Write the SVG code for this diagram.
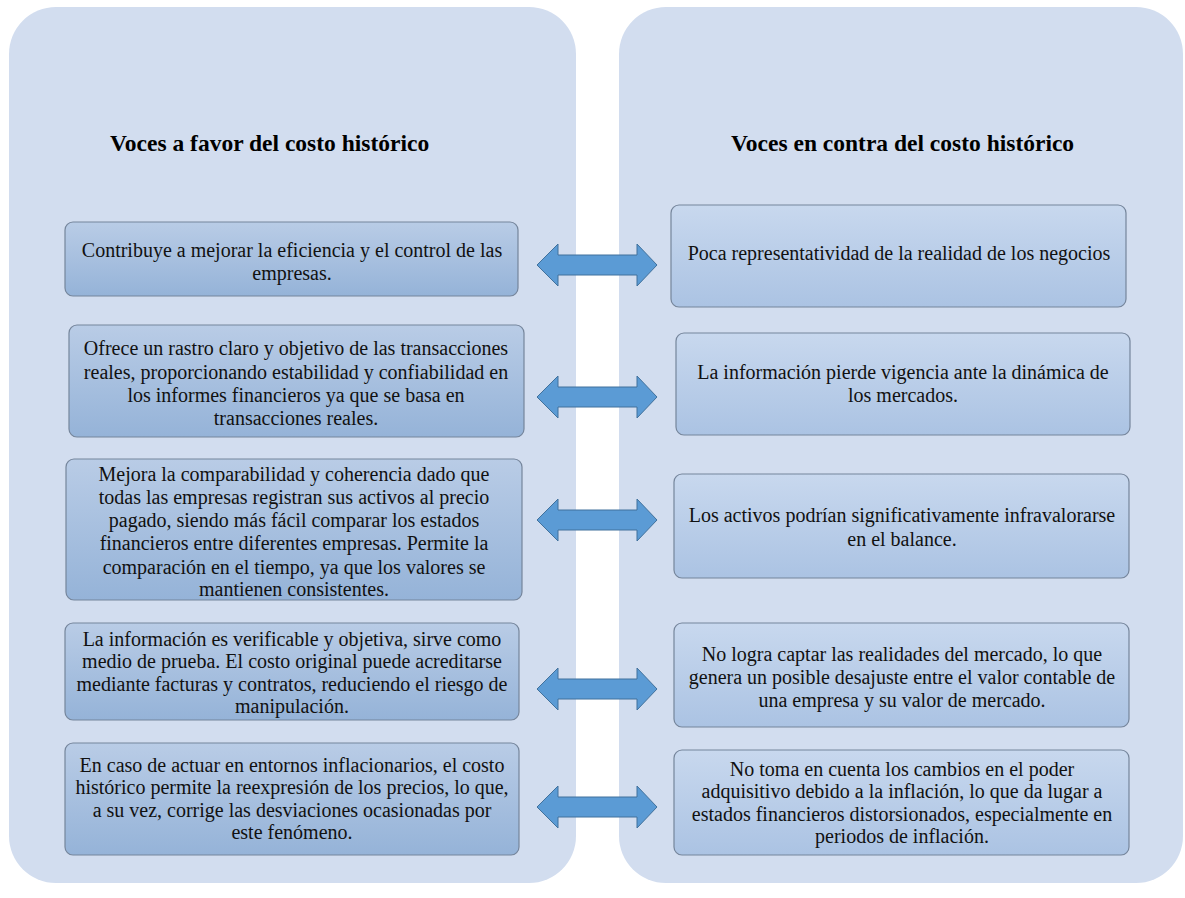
<svg xmlns="http://www.w3.org/2000/svg" width="1185" height="898" viewBox="0 0 1185 898">
<style>
.panel{fill:#D2DDEF;}
.lbox{fill:url(#gl);stroke:#75859b;stroke-width:1.2;}
.rbox{fill:url(#gr);stroke:#75859b;stroke-width:1.2;}
.t{font-family:"Liberation Serif","Times New Roman",serif;font-size:20px;fill:#111;text-anchor:middle;}
.h{font-family:"Liberation Serif","Times New Roman",serif;font-size:23.5px;font-weight:bold;fill:#000;}
.arr{fill:#5B9BD5;stroke:#41719C;stroke-width:1;}
</style>
<defs>
<linearGradient id="gl" x1="0" y1="0" x2="0" y2="1">
<stop offset="0" stop-color="#B9CCE6"/>
<stop offset="1" stop-color="#95B3D8"/>
</linearGradient>
<linearGradient id="gr" x1="0" y1="0" x2="0" y2="1">
<stop offset="0" stop-color="#C8D8EE"/>
<stop offset="1" stop-color="#ABC3E3"/>
</linearGradient>
<path id="dbl" d="M537,0 L558,-21 L558,-10 L637,-10 L637,-21 L657,0 L637,21 L637,10 L558,10 L558,21 Z"/>
</defs>

<g id="panel-favor">
<rect class="panel" x="9" y="7" width="567" height="876" rx="47"/>
<text class="h" x="110" y="151">Voces a favor del costo histórico</text>
</g>
<g id="panel-contra">
<rect class="panel" x="619" y="7" width="564" height="876" rx="47"/>
<text class="h" x="731" y="151">Voces en contra del costo histórico</text>
</g>

<g id="favor-1">
<rect class="lbox" x="65" y="222" width="453" height="74" rx="8"/>
<text class="t" x="292" y="257">Contribuye a mejorar la eficiencia y el control de las</text>
<text class="t" x="292" y="280">empresas.</text>
</g>
<g id="favor-2">
<rect class="lbox" x="69" y="325" width="455" height="112" rx="8"/>
<text class="t" x="296" y="355">Ofrece un rastro claro y objetivo de las transacciones</text>
<text class="t" x="296" y="379">reales, proporcionando estabilidad y confiabilidad en</text>
<text class="t" x="296" y="402">los informes financieros ya que se basa en</text>
<text class="t" x="296" y="425">transacciones reales.</text>
</g>
<g id="favor-3">
<rect class="lbox" x="66" y="459" width="456" height="141" rx="8"/>
<text class="t" x="294" y="481">Mejora la comparabilidad y coherencia dado que</text>
<text class="t" x="294" y="504">todas las empresas registran sus activos al precio</text>
<text class="t" x="294" y="527">pagado, siendo más fácil comparar los estados</text>
<text class="t" x="294" y="550">financieros entre diferentes empresas. Permite la</text>
<text class="t" x="294" y="574">comparación en el tiempo, ya que los valores se</text>
<text class="t" x="294" y="596">mantienen consistentes.</text>
</g>
<g id="favor-4">
<rect class="lbox" x="65" y="623" width="454" height="97" rx="8"/>
<text class="t" x="292" y="646">La información es verificable y objetiva, sirve como</text>
<text class="t" x="292" y="668">medio de prueba. El costo original puede acreditarse</text>
<text class="t" x="292" y="691">mediante facturas y contratos, reduciendo el riesgo de</text>
<text class="t" x="292" y="713">manipulación.</text>
</g>
<g id="favor-5">
<rect class="lbox" x="65" y="743" width="454" height="112" rx="8"/>
<text class="t" x="292" y="772">En caso de actuar en entornos inflacionarios, el costo</text>
<text class="t" x="292" y="794">histórico permite la reexpresión de los precios, lo que,</text>
<text class="t" x="292" y="817">a su vez, corrige las desviaciones ocasionadas por</text>
<text class="t" x="292" y="839">este fenómeno.</text>
</g>

<g id="contra-1">
<rect class="rbox" x="671" y="205" width="455" height="102" rx="8"/>
<text class="t" x="899" y="260">Poca representatividad de la realidad de los negocios</text>
</g>
<g id="contra-2">
<rect class="rbox" x="676" y="333" width="454" height="102" rx="8"/>
<text class="t" x="903" y="379">La información pierde vigencia ante la dinámica de</text>
<text class="t" x="903" y="402">los mercados.</text>
</g>
<g id="contra-3">
<rect class="rbox" x="674" y="474" width="455" height="104" rx="8"/>
<text class="t" x="902" y="522">Los activos podrían significativamente infravalorarse</text>
<text class="t" x="902" y="546">en el balance.</text>
</g>
<g id="contra-4">
<rect class="rbox" x="674" y="623" width="455" height="104" rx="8"/>
<text class="t" x="902" y="661">No logra captar las realidades del mercado, lo que</text>
<text class="t" x="902" y="684">genera un posible desajuste entre el valor contable de</text>
<text class="t" x="902" y="707">una empresa y su valor de mercado.</text>
</g>
<g id="contra-5">
<rect class="rbox" x="674" y="750" width="455" height="105" rx="8"/>
<text class="t" x="902" y="776">No toma en cuenta los cambios en el poder</text>
<text class="t" x="902" y="798">adquisitivo debido a la inflación, lo que da lugar a</text>
<text class="t" x="902" y="821">estados financieros distorsionados, especialmente en</text>
<text class="t" x="902" y="843">periodos de inflación.</text>
</g>

<g id="connectors">
<use href="#dbl" class="arr" transform="translate(0,265)"/>
<use href="#dbl" class="arr" transform="translate(0,397)"/>
<use href="#dbl" class="arr" transform="translate(0,520)"/>
<use href="#dbl" class="arr" transform="translate(0,689)"/>
<use href="#dbl" class="arr" transform="translate(0,807)"/>
</g>
</svg>
